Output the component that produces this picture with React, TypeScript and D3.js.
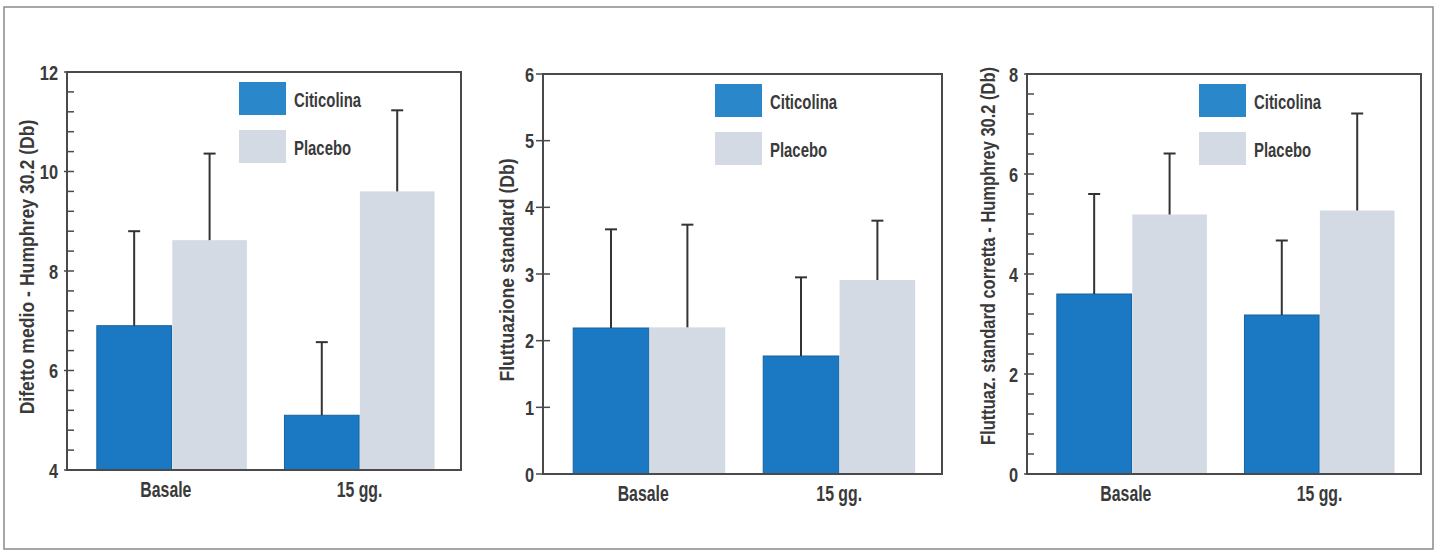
import React from "react";
import * as d3 from "d3";

// ---------- DATA ----------
const categories = ["Basale", "15 gg."];
const seriesNames = ["Citicolina", "Placebo"];

// Panel 1: Difetto medio - Humphrey 30.2 (Db)
const difettoCiticolina = [6.9, 5.1];
const difettoCiticolinaSD = [1.9, 1.47];
const difettoPlacebo = [8.62, 9.6];
const difettoPlaceboSD = [1.74, 1.63];
const difettoTicks = [4, 6, 8, 10, 12];

// Panel 2: Fluttuazione standard (Db)
const fluttCiticolina = [2.19, 1.77];
const fluttCiticolinaSD = [1.48, 1.18];
const fluttPlacebo = [2.2, 2.91];
const fluttPlaceboSD = [1.54, 0.89];
const fluttTicks = [0, 1, 2, 3, 4, 5, 6];

// Panel 3: Fluttuaz. standard corretta - Humphrey 30.2 (Db)
const correttaCiticolina = [3.6, 3.18];
const correttaCiticolinaSD = [2.0, 1.49];
const correttaPlacebo = [5.19, 5.27];
const correttaPlaceboSD = [1.22, 1.94];
const correttaTicks = [0, 2, 4, 6, 8];

// ---------- STYLE ----------
const FONT = "'Liberation Sans', Arial, Helvetica, sans-serif";
const TEXT = "#3a3a3a";
const AXIS = "#4a4a4a";
const BLUE = "#1b79c3";
const BLUE_EDGE = "#15629f";
const BLUE_LEGEND = "#2a87ca";
const GRAY = "#d4dae4";

const colors: Record<string, string> = { Citicolina: BLUE, Placebo: GRAY };
const legendColors: Record<string, string> = { Citicolina: BLUE_LEGEND, Placebo: GRAY };
const labelShift: Record<string, number> = { "Basale": -6, "15 gg.": 0 };

type PanelCfg = {
  title: string;
  x0: number;
  x1: number;
  yTop: number;
  yBottom: number;
  domain: [number, number];
  ticks: number[];
  minorStep: number | null;
  crossTicks: boolean;
  means: Record<string, number[]>;
  sds: Record<string, number[]>;
  titleX: number;
  titleY: number;
  titleSx: number;
};

const panels: PanelCfg[] = [
  {
    title: "Difetto medio - Humphrey 30.2 (Db)",
    x0: 67, x1: 461, yTop: 72, yBottom: 470,
    domain: [4, 12], ticks: difettoTicks, minorStep: 0.4, crossTicks: false,
    means: { Citicolina: difettoCiticolina, Placebo: difettoPlacebo },
    sds: { Citicolina: difettoCiticolinaSD, Placebo: difettoPlaceboSD },
    titleX: 34, titleY: 267, titleSx: 0.84,
  },
  {
    title: "Fluttuazione standard (Db)",
    x0: 543, x1: 942, yTop: 74, yBottom: 474,
    domain: [0, 6], ticks: fluttTicks, minorStep: null, crossTicks: true,
    means: { Citicolina: fluttCiticolina, Placebo: fluttPlacebo },
    sds: { Citicolina: fluttCiticolinaSD, Placebo: fluttPlaceboSD },
    titleX: 514, titleY: 270, titleSx: 0.84,
  },
  {
    title: "Fluttuaz. standard corretta - Humphrey 30.2 (Db)",
    x0: 1027, x1: 1421, yTop: 74, yBottom: 474,
    domain: [0, 8], ticks: correttaTicks, minorStep: 0.4, crossTicks: false,
    means: { Citicolina: correttaCiticolina, Placebo: correttaPlacebo },
    sds: { Citicolina: correttaCiticolinaSD, Placebo: correttaPlaceboSD },
    titleX: 995, titleY: 256, titleSx: 0.785,
  },
];

function CText(props: {
  x: number; y: number; rotate?: number; sx?: number; anchor?: string;
  size?: number; children: React.ReactNode;
}) {
  const { x, y, rotate = 0, sx = 0.8, anchor = "start", size = 20, children } = props;
  const tf = `translate(${x},${y}) rotate(${rotate}) scale(${sx},1)`;
  return (
    <text
      transform={tf}
      textAnchor={anchor as any}
      fontFamily={FONT}
      fontWeight="bold"
      fontSize={size}
      fill={TEXT}
    >
      {children}
    </text>
  );
}

function Panel({ cfg }: { cfg: PanelCfg }) {
  const x = d3.scaleBand<string>()
    .domain(categories)
    .range([cfg.x0, cfg.x1])
    .paddingInner(0.2)
    .paddingOuter(0.15)
    .align(0.53);
  const xs = d3.scaleBand<string>()
    .domain(seriesNames)
    .range([0, x.bandwidth()])
    .paddingInner(0.01);
  const y = d3.scaleLinear().domain(cfg.domain).range([cfg.yBottom, cfg.yTop]);

  const minors: number[] = [];
  if (cfg.minorStep) {
    const [lo, hi] = cfg.domain;
    const n = Math.round((hi - lo) / cfg.minorStep);
    for (let i = 1; i < n; i++) {
      const v = lo + i * cfg.minorStep;
      if (!cfg.ticks.some((t) => Math.abs(t - v) < 1e-6)) minors.push(v);
    }
  }

  const legendX = cfg.x0 + 172;

  return (
    <g>
      {/* bars */}
      {categories.map((c, i) =>
        seriesNames.map((s) => {
          const v = cfg.means[s][i];
          const bx = (x(c) as number) + (xs(s) as number);
          const bw = xs.bandwidth();
          return (
            <rect
              key={c + s}
              x={bx}
              y={y(v)}
              width={bw}
              height={y(cfg.domain[0]) - y(v)}
              fill={colors[s]}
              stroke={s === "Citicolina" ? BLUE_EDGE : "none"}
              strokeWidth={1}
            />
          );
        })
      )}
      {/* error bars */}
      {categories.map((c, i) =>
        seriesNames.map((s) => {
          const v = cfg.means[s][i];
          const e = v + cfg.sds[s][i];
          const cx = (x(c) as number) + (xs(s) as number) + xs.bandwidth() / 2;
          return (
            <g key={"e" + c + s} stroke="#333" strokeWidth={2}>
              <line x1={cx} x2={cx} y1={y(v)} y2={y(e)} />
              <line x1={cx - 6} x2={cx + 6} y1={y(e)} y2={y(e)} />
            </g>
          );
        })
      )}
      {/* frame */}
      <rect
        x={cfg.x0}
        y={cfg.yTop}
        width={cfg.x1 - cfg.x0}
        height={cfg.yBottom - cfg.yTop}
        fill="none"
        stroke={AXIS}
        strokeWidth={2}
      />
      {/* ticks */}
      {cfg.ticks.map((t) => (
        <g key={"t" + t}>
          <line
            x1={cfg.x0 - (cfg.crossTicks ? 7 : 3)}
            x2={cfg.x0 + 7}
            y1={y(t)}
            y2={y(t)}
            stroke={AXIS}
            strokeWidth={1.5}
          />
          <CText x={cfg.x0 - 9} y={y(t) + 7.5} anchor="end" size={21} sx={0.78}>
            {String(t)}
          </CText>
        </g>
      ))}
      {minors.map((m) => (
        <line
          key={"m" + m}
          x1={cfg.x0}
          x2={cfg.x0 + 7}
          y1={y(m)}
          y2={y(m)}
          stroke={AXIS}
          strokeWidth={1.5}
        />
      ))}
      {/* category labels */}
      {categories.map((c) => (
        <CText key={"c" + c} x={(x(c) as number) + x.bandwidth() / 2 + labelShift[c]} y={cfg.yBottom + 27} anchor="middle" size={22} sx={0.72}>
          {c}
        </CText>
      ))}
      {/* legend */}
      {seriesNames.map((s, i) => (
        <g key={"l" + s}>
          <rect x={legendX} y={cfg.yTop + 10 + i * 48} width={47} height={33} fill={legendColors[s]} />
          <CText x={cfg.x0 + 227} y={cfg.yTop + 35 + i * 48} size={21} sx={0.71}>
            {s}
          </CText>
        </g>
      ))}
      {/* y title */}
      <CText x={cfg.titleX} y={cfg.titleY} rotate={-90} anchor="middle" size={21} sx={cfg.titleSx}>
        {cfg.title}
      </CText>
    </g>
  );
}

export default function App() {
  return (
    <svg
      width={1437}
      height={553}
      style={{ position: "absolute", left: 0, top: 0, display: "block", background: "#fff" }}
    >
      <rect x={0} y={0} width={1437} height={553} fill="#fff" />
      <rect x={4} y={7} width={1429} height={542} fill="none" stroke="#8a8a8a" strokeWidth={1.5} />
      {panels.map((p, i) => (
        <Panel key={i} cfg={p} />
      ))}
    </svg>
  );
}
